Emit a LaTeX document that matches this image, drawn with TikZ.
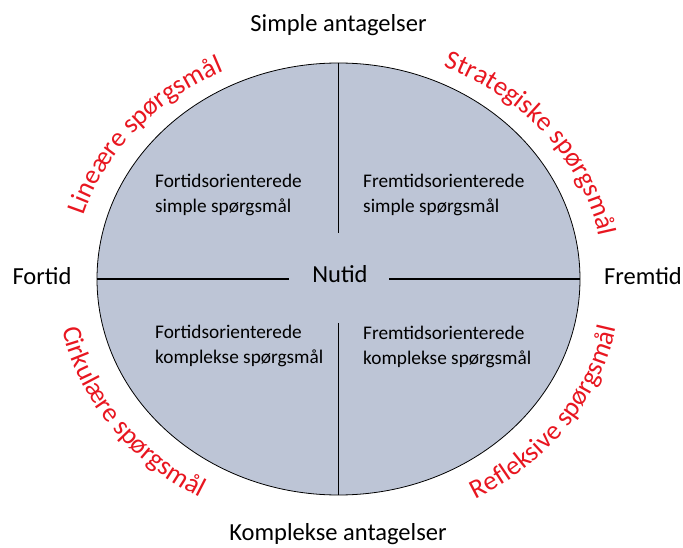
\documentclass[tikz,border=0pt]{standalone}
\usepackage{fontspec}
\setmainfont{Carlito}
\usetikzlibrary{shapes.geometric,decorations.text}
\definecolor{qfill}{RGB}{189,197,214}
\definecolor{qred}{RGB}{232,22,32}
\newcommand\redlab{\fontsize{27}{32}\selectfont\color{qred}}
\tikzset{
  outerlab/.style={font=\fontsize{24.5}{29}\selectfont, anchor=base, inner sep=0pt},
  innerlab/.style={font=\fontsize{19.3}{25}\selectfont, align=left, anchor=base west, inner sep=0pt},
  divline/.style={draw=black, line width=1.6pt},
  arctext/.style={decorate, decoration={text along path, text align=center, text={|\redlab|#1}}}
}
\begin{document}
\begin{tikzpicture}[x=1pt,y=1pt]
\useasboundingbox (0,0) rectangle (683,547);
\coordinate (C) at (338.5,268);
\node[ellipse, draw=black, line width=0.8pt, fill=qfill, minimum width=483pt, minimum height=432pt, inner sep=0pt] (E) at (C) {};
\coordinate (vtop) at (338.5,314);
\coordinate (vbot) at (338.5,224);
\coordinate (hl) at (289,268);
\coordinate (hr) at (389,268);
\draw[divline] (E.north) -- (vtop);
\draw[divline] (vbot) -- (E.south);
\draw[divline] (E.west) -- (hl);
\draw[divline] (hr) -- (E.east);
\node[outerlab] (nut) at (340,264) {Nutid};
\node[outerlab] (sim) at (338.5,515) {Simple antagelser};
\node[outerlab] (kom) at (338,7) {Komplekse antagelser};
\node[outerlab] (fort) at (42,262) {Fortid};
\node[outerlab] (frem) at (643,262) {Fremtid};
\node[innerlab] (q1) at (155,334) {Fortidsorienterede\\simple spørgsmål};
\node[innerlab] (q2) at (363,334) {Fremtidsorienterede\\simple spørgsmål};
\node[innerlab] (q3) at (155,184) {Fortidsorienterede\\komplekse spørgsmål};
\node[innerlab] (q4) at (363,183) {Fremtidsorienterede\\komplekse spørgsmål};
\path[arctext={Lineære spørgsmål}] (C) ++(176:265pt and 230pt) arc[start angle=176, end angle=105, x radius=265pt, y radius=230pt];
\path[arctext={Strategiske spørgsmål}] (C) ++(75:265pt and 231pt) arc[start angle=75, end angle=1, x radius=265pt, y radius=231pt];
\path[arctext={Cirkulære spørgsmål}] (C) ++(180:282pt and 251pt) arc[start angle=180, end angle=251, x radius=282pt, y radius=251pt];
\path[arctext={Refleksive spørgsmål}] (C) ++(288:283pt and 252pt) arc[start angle=288, end angle=361, x radius=283pt, y radius=252pt];
\end{tikzpicture}
\end{document}
